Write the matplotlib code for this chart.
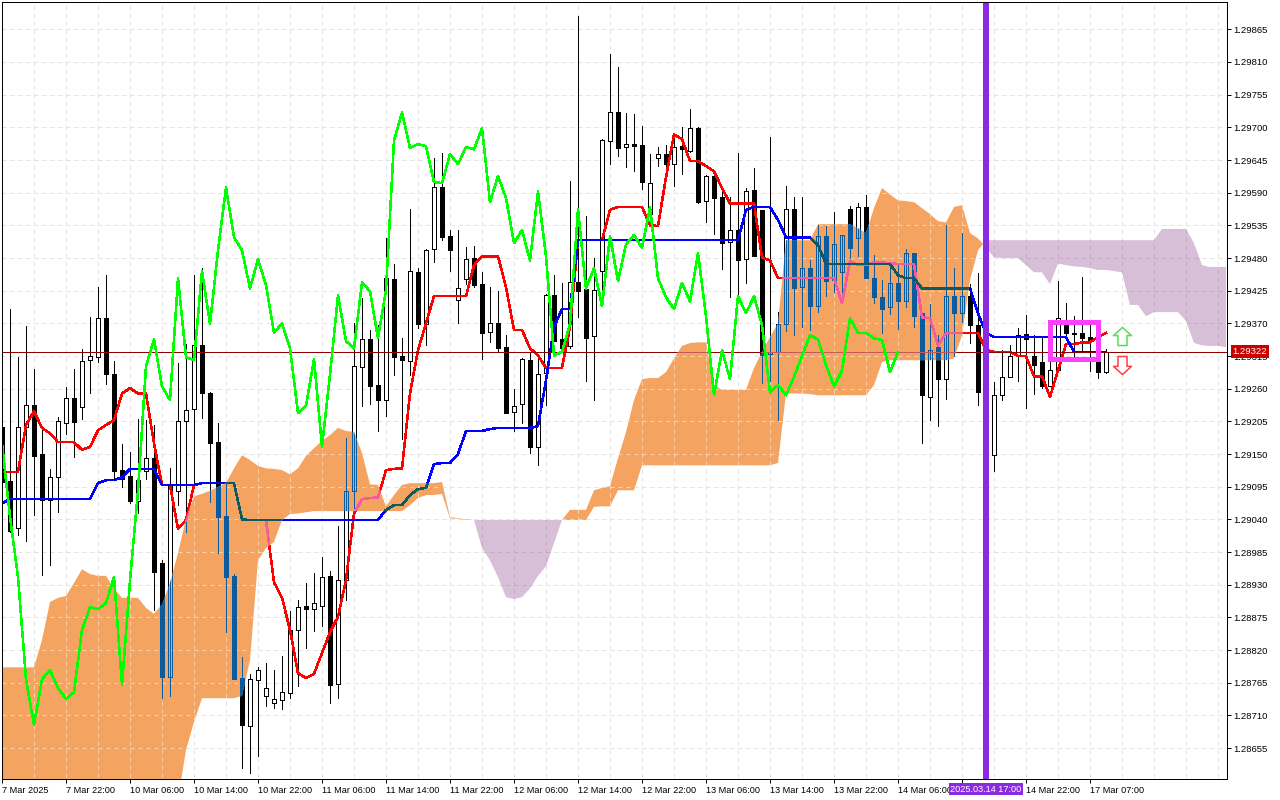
import matplotlib
matplotlib.use("Agg")
import matplotlib.pyplot as plt
import numpy as np
from matplotlib.path import Path

# prices are kept in points (1e-5)
opens = [
    129196, 129105, 129025, 129196, 129233, 129150, 129072, 129111, 129202, 129244,
    129229, 129308, 129313, 129379, 129284, 129123, 129113, 129071, 129121, 129143,
    128966, 128775, 129088, 129206, 129226, 129333, 129252, 129170, 129046, 128945,
    128773, 128692, 128770, 128743, 128731, 128736, 128748, 128854, 128894, 128889,
    128894, 128945, 128763, 128938, 129088, 129296, 129343, 129266, 129241, 129444,
    129315, 129306, 129456, 129369, 129495, 129599, 129517, 129409, 129444, 129480,
    129436, 129355, 129370, 129330, 129221, 129234, 129308, 129162, 129286, 129417,
    129343, 129332, 129439, 129428, 129348, 129458, 129677, 129725, 129667, 129672,
    129670, 129554, 129648, 129655, 129638, 129668, 129660, 129699, 129576, 129618,
    129582, 129507, 129527, 129478, 129594, 129561, 129318, 129322, 129369, 129562,
    129431, 129463, 129399, 129517, 129443, 129456, 129562, 129513, 129566, 129446,
    129414, 129397, 129438, 129407, 129488, 129387, 129246, 129330, 129276, 129416,
    129387, 129416, 129367, 129251, 129148, 129249, 129280, 129315, 129352, 129315,
    129305, 129264, 129291, 129367, 129352, 129354, 129347, 129305, 129288,
]
highs = [
    129294, 129394, 129313, 129365, 129293, 129196, 129125, 129212, 129263, 129293,
    129327, 129380, 129432, 129452, 129306, 129167, 129153, 129209, 129207, 129199,
    128971, 129126, 129303, 129335, 129452, 129463, 129254, 129202, 129101, 128948,
    128808, 128780, 128791, 128798, 128786, 128810, 128886, 128904, 128933, 128950,
    128977, 128953, 129029, 129177, 129370, 129412, 129359, 129367, 129513, 129470,
    129345, 129562, 129463, 129495, 129648, 129656, 129527, 129527, 129498, 129500,
    129456, 129431, 129424, 129350, 129259, 129311, 129322, 129316, 129419, 129451,
    129438, 129609, 129887, 129550, 129480, 129680, 129823, 129801, 129724, 129722,
    129702, 129655, 129667, 129670, 129690, 129700, 129731, 129700, 129620, 129620,
    129599, 129582, 129656, 129598, 129631, 129561, 129683, 129389, 129601, 129582,
    129582, 129476, 129535, 129534, 129557, 129519, 129567, 129572, 129586, 129485,
    129443, 129470, 129471, 129495, 129488, 129387, 129402, 129350, 129535, 129463,
    129522, 129436, 129455, 129274, 129271, 129325, 129333, 129362, 129384, 129350,
    129347, 129305, 129441, 129404, 129382, 129448, 129370, 129322, 129327,
]
lows = [
    129021, 129018, 129013, 129003, 129047, 128946, 128963, 129053, 129184, 129145,
    129209, 129252, 129305, 129268, 129106, 129095, 129067, 129050, 129108, 128887,
    128739, 128743, 129064, 129019, 129101, 129211, 129069, 128983, 128850, 128771,
    128621, 128613, 128642, 128726, 128722, 128721, 128739, 128760, 128823, 128852,
    128860, 128731, 128739, 128904, 129059, 129231, 129234, 129189, 129214, 129283,
    129175, 129283, 129362, 129333, 129473, 129510, 129458, 129370, 129436, 129431,
    129310, 129338, 129323, 129219, 129189, 129202, 129152, 129131, 129233, 129340,
    129328, 129328, 129380, 129273, 129241, 129414, 129638, 129651, 129633, 129626,
    129596, 129537, 129635, 129628, 129601, 129621, 129658, 129572, 129540, 129520,
    129461, 129414, 129412, 129438, 129483, 129269, 129273, 129207, 129357, 129350,
    129364, 129359, 129389, 129416, 129423, 129404, 129480, 129483, 129446, 129404,
    129354, 129385, 129360, 129397, 129364, 129168, 129207, 129197, 129242, 129315,
    129372, 129337, 129232, 129232, 129121, 129241, 129280, 129273, 129227, 129251,
    129261, 129264, 129291, 129342, 129313, 129322, 129290, 129278, 129286,
]
closes = [
    129103, 129021, 129196, 129233, 129147, 129072, 129111, 129206, 129244, 129204,
    129306, 129315, 129379, 129284, 129121, 129108, 129071, 129106, 129143, 128951,
    128775, 129098, 129206, 129224, 129333, 129252, 129168, 129044, 128943, 128771,
    128694, 128771, 128786, 128756, 128738, 128749, 128854, 128892, 128889, 128899,
    128943, 128761, 128938, 129088, 129298, 129343, 129264, 129241, 129446, 129313,
    129308, 129458, 129369, 129493, 129599, 129515, 129493, 129429, 129478, 129434,
    129354, 129370, 129328, 129219, 129231, 129310, 129162, 129284, 129417, 129340,
    129328, 129439, 129424, 129345, 129426, 129678, 129725, 129665, 129672, 129668,
    129608, 129606, 129655, 129638, 129667, 129663, 129699, 129574, 129618, 129581,
    129505, 129527, 129476, 129592, 129483, 129316, 129322, 129369, 129562, 129429,
    129463, 129399, 129517, 129441, 129503, 129519, 129497, 129566, 129446, 129414,
    129394, 129438, 129407, 129488, 129382, 129249, 129325, 129276, 129416, 129387,
    129416, 129367, 129254, 129266, 129249, 129280, 129315, 129350, 129343, 129300,
    129264, 129291, 129379, 129354, 129354, 129345, 129342, 129288, 129322,
]

# ichimoku lines
tenkan = [
    129120, 129120, 129120, 129199, 129222, 129194, 129185, 129170, 129170, 129170,
    129157, 129162, 129190, 129199, 129207, 129252, 129261, 129252, 129252, 129168,
    129098, 129098, 129024, 129039, 129098, 129101, 129101, 129101, 129101, 129101,
    129040, 129039, 129039, 129039, 128934, 128908, 128854, 128781, 128773, 128780,
    128815, 128850, 128876, 128938, 129050, 129074, 129076, 129077, 129123, 129125,
    129126, 129252, 129325, 129370, 129416, 129416, 129416, 129416, 129416, 129468,
    129483, 129483, 129483, 129431, 129359, 129359, 129328, 129316, 129295, 129295,
    129295, 129364, 129510, 129510, 129510, 129510, 129561, 129566, 129566, 129566,
    129566, 129535, 129534, 129616, 129688, 129680, 129643, 129643, 129635, 129626,
    129598, 129572, 129572, 129572, 129572, 129481, 129476, 129446, 129446, 129446,
    129446, 129446, 129446, 129446, 129446, 129404, 129475, 129468, 129468, 129473,
    129473, 129471, 129470, 129470, 129470, 129380, 129379, 129333, 129354, 129354,
    129354, 129354, 129354, 129325, 129322, 129322, 129322, 129315, 129315, 129281,
    129281, 129246, 129291, 129335, 129335, 129338, 129338, 129347, 129354,
]
kijun = [
    129067, 129074, 129074, 129074, 129074, 129074, 129074, 129074, 129074, 129074,
    129074, 129074, 129101, 129106, 129106, 129111, 129125, 129125, 129125, 129125,
    129098, 129098, 129098, 129098, 129098, 129101, 129101, 129101, 129101, 129101,
    129040, 129039, 129039, 129039, 129039, 129039, 129039, 129039, 129039, 129039,
    129039, 129039, 129039, 129039, 129039, 129039, 129039, 129039, 129056, 129064,
    129064, 129081, 129091, 129093, 129133, 129135, 129135, 129150, 129189, 129189,
    129189, 129192, 129194, 129194, 129194, 129194, 129194, 129197, 129274, 129364,
    129394, 129394, 129510, 129510, 129510, 129510, 129510, 129510, 129510, 129510,
    129510, 129510, 129510, 129510, 129510, 129510, 129510, 129510, 129510, 129510,
    129510, 129510, 129510, 129561, 129566, 129566, 129566, 129544, 129515, 129515,
    129515, 129515, 129502, 129470, 129470, 129470, 129470, 129470, 129470, 129470,
    129470, 129470, 129451, 129446, 129446, 129429, 129429, 129429, 129429, 129429,
    129429, 129429, 129387, 129354, 129347, 129347, 129347, 129347, 129347, 129347,
    129347, 129347, 129347, 129347, 129322, 129322, 129322, 129322, 129322,
]
chikou = [
    129168, 129044, 128943, 128771,
    128694, 128771, 128786, 128756, 128738, 128749, 128854, 128892, 128889, 128899,
    128943, 128761, 128938, 129088, 129298, 129343, 129264, 129241, 129446, 129313,
    129308, 129458, 129369, 129493, 129599, 129515, 129493, 129429, 129478, 129434,
    129354, 129370, 129328, 129219, 129231, 129310, 129162, 129284, 129417, 129340,
    129328, 129439, 129424, 129345, 129426, 129678, 129725, 129665, 129672, 129668,
    129608, 129606, 129655, 129638, 129667, 129663, 129699, 129574, 129618, 129581,
    129505, 129527, 129476, 129592, 129483, 129316, 129322, 129369, 129562, 129429,
    129463, 129399, 129517, 129441, 129503, 129519, 129497, 129566, 129446, 129414,
    129394, 129438, 129407, 129488, 129382, 129249, 129325, 129276, 129416, 129387,
    129416, 129367, 129254, 129266, 129249, 129280, 129315, 129350, 129343, 129300,
    129264, 129291, 129379, 129354, 129354, 129345, 129342, 129288, 129322,
]
span_a = [
    128791, 128791, 128791, 128791, 128791, 128837, 128901, 128908, 128911, 128933,
    128956, 128948, 128945, 128945, 128924, 128908, 128908, 128908, 128891, 128881,
    128897, 128933, 128983, 129042, 129079, 129083, 129088, 129095, 129101, 129126,
    129148, 129140, 129130, 129126, 129125, 129123, 129116, 129126, 129147, 129160,
    129172, 129182, 129194, 129189, 129187, 129152, 129099, 129098, 129062, 129081,
    129098, 129101, 129101, 129101, 129101, 129103, 129044, 129042, 129040, 129039,
    128992, 128971, 128943, 128909, 128906, 128909, 128924, 128945, 128961, 129000,
    129039, 129056, 129056, 129056, 129089, 129093, 129096, 129143, 129187, 129241,
    129276, 129278, 129278, 129288, 129311, 129332, 129337, 129338, 129338, 129266,
    129258, 129258, 129258, 129258, 129295, 129322, 129347, 129370, 129510, 129510,
    129510, 129510, 129537, 129537, 129537, 129537, 129537, 129530, 129522, 129564,
    129598, 129587, 129577, 129576, 129574, 129564, 129554, 129542, 129540, 129566,
    129569, 129522, 129513, 129498, 129481, 129480, 129480, 129480, 129468, 129456,
    129456, 129436, 129471, 129468, 129466, 129465, 129463, 129460, 129460, 129458,
    129456, 129401, 129401, 129382, 129389, 129389, 129389, 129389, 129374, 129337,
    129333, 129332, 129332, 129330,
]
span_b = [
    128568, 128568, 128568, 128568, 128568, 128568, 128568, 128568, 128568, 128568,
    128568, 128568, 128568, 128568, 128568, 128568, 128568, 128568, 128568, 128568,
    128568, 128568, 128568, 128652, 128699, 128739, 128739, 128739, 128739, 128739,
    128743, 128803, 128971, 128992, 129002, 129039, 129049, 129050, 129052, 129054,
    129054, 129054, 129054, 129054, 129054, 129054, 129054, 129054, 129054, 129054,
    129054, 129064, 129076, 129081, 129081, 129083, 129042, 129041, 129039, 129039,
    129039, 129039, 129039, 129039, 129039, 129039, 129039, 129039, 129039, 129039,
    129039, 129039, 129039, 129039, 129061, 129062, 129062, 129089, 129089, 129089,
    129131, 129131, 129131, 129131, 129131, 129131, 129131, 129131, 129131, 129131,
    129131, 129131, 129131, 129131, 129131, 129131, 129131, 129135, 129252, 129252,
    129252, 129251, 129249, 129249, 129249, 129249, 129249, 129249, 129249, 129266,
    129305, 129308, 129308, 129308, 129308, 129308, 129308, 129308, 129308, 129311,
    129350, 129443, 129493, 129510, 129510, 129510, 129510, 129510, 129510, 129510,
    129510, 129510, 129510, 129510, 129510, 129510, 129510, 129510, 129510, 129510,
    129510, 129510, 129510, 129510, 129510, 129529, 129529, 129529, 129529, 129505,
    129468, 129465, 129465, 129465,
]

y_ticks = [1.28655, 1.28710, 1.28765, 1.28820, 1.28875, 1.28930, 1.28985, 1.29040,
           1.29095, 1.29150, 1.29205, 1.29260, 1.29315, 1.29370, 1.29425, 1.29480,
           1.29535, 1.29590, 1.29645, 1.29700, 1.29755, 1.29810, 1.29865]
x_tick_bars = [0, 8, 16, 24, 32, 40, 48, 56, 64, 72, 80, 88, 96, 104, 112, 120, 128, 136]
x_tick_labels = ["7 Mar 2025", "7 Mar 22:00", "10 Mar 06:00", "10 Mar 14:00", "10 Mar 22:00",
                 "11 Mar 06:00", "11 Mar 14:00", "11 Mar 22:00", "12 Mar 06:00", "12 Mar 14:00",
                 "12 Mar 22:00", "13 Mar 06:00", "13 Mar 14:00", "13 Mar 22:00", "14 Mar 06:00",
                 "", "14 Mar 22:00", "17 Mar 07:00"]
last_price = 1.29322
marked_bar = 123
box_bars = (131, 137)
box_prices = (1.29310, 1.29372)
up_arrow_price = 1.29348
down_arrow_price = 1.29300
arrow_bar = 140

ORANGE = "#f4a460"
THISTLE = "#d8bfd8"
PX = 0.72  # one pixel in points at dpi 100
LINE_W = 1.1

plt.rcParams["font.family"] = ["Liberation Sans", "DejaVu Sans"]
plt.rcParams["font.size"] = 6.6

fig = plt.figure(figsize=(12.8, 8), dpi=100)
ax = fig.add_axes([2 / 1280, 1 - 779 / 800, 1225 / 1280, 777 / 800])

o = np.array(opens) / 1e5
h = np.array(highs) / 1e5
l = np.array(lows) / 1e5
c = np.array(closes) / 1e5
bars = np.arange(len(o))
cloud_x = np.arange(len(span_a))
a = np.array(span_a) / 1e5
b = np.array(span_b) / 1e5


def draw_grid(color, z, clip=None):
    hl = ax.hlines(y_ticks, 0, 154, colors=color, linewidth=PX, linestyles=(0, (4, 4)), zorder=z)
    vl = ax.vlines(np.arange(0, 154, 4), 1.28, 1.30, colors=color, linewidth=PX,
                   linestyles=(0, (4, 4)), zorder=z)
    if clip is not None:
        hl.set_clip_path(clip, ax.transData)
        vl.set_clip_path(clip, ax.transData)


def draw_candles(edge, up_face, down_face, z, clip=None):
    up = c >= o
    wick = ax.vlines(bars, l, h, colors=edge, linewidth=PX, zorder=z, antialiased=False)
    parts = [wick]
    parts += list(ax.bar(bars[up], (c - o)[up], 0.5, o[up], facecolor=up_face, edgecolor=edge,
                         linewidth=PX, zorder=z + 0.1, antialiased=False))
    parts += list(ax.bar(bars[~up], (c - o)[~up], 0.5, o[~up], facecolor=down_face, edgecolor=edge,
                         linewidth=PX, zorder=z + 0.1, antialiased=False))
    if clip is not None:
        for p in parts:
            p.set_clip_path(clip, ax.transData)


def draw_lines(red, blue, z, clip=None):
    l1, = ax.plot(bars, np.array(tenkan) / 1e5, color=red, lw=LINE_W, zorder=z, antialiased=False)
    l2, = ax.plot(bars, np.array(kijun) / 1e5, color=blue, lw=LINE_W, zorder=z + 0.1, antialiased=False)
    if clip is not None:
        l1.set_clip_path(clip, ax.transData)
        l2.set_clip_path(clip, ax.transData)


# normal colours first, then the cloud on top of them
draw_grid("#e2e2e2", 1)
draw_candles("black", "white", "black", 2)
draw_lines("#ff0000", "#0000ff", 3)
ax.axhline(last_price, color="#900000", lw=PX, zorder=3.5, antialiased=False)

orange = ax.fill_between(cloud_x, a, b, where=a >= b, interpolate=True, color=ORANGE,
                         linewidth=0, zorder=4)
thistle = ax.fill_between(cloud_x, a, b, where=a <= b, interpolate=True, color=THISTLE,
                          linewidth=0, zorder=4)

# inside the cloud the terminal shows inverted colours
cloud_path = Path.make_compound_path(*orange.get_paths())
thistle_path = Path.make_compound_path(*thistle.get_paths())
draw_grid("#f8d3ab", 5, cloud_path)
draw_grid("#c4a8c4", 5, thistle_path)
draw_candles("#0b5b9f", "none", "#0b5b9f", 5.1, cloud_path)
draw_lines("#f45b9f", "#0b5b60", 5.5, cloud_path)
price_in_cloud, = ax.plot([0, 154], [last_price, last_price], color="#c45a5a", lw=PX, zorder=5.8,
                          antialiased=False)
price_in_cloud.set_clip_path(cloud_path, ax.transData)

ax.plot(bars[:len(chikou)], np.array(chikou) / 1e5, color="#00ff00", lw=LINE_W, zorder=6,
        antialiased=False)

ax.axvline(marked_bar, color="#8a2be2", lw=6 * PX, zorder=7, antialiased=False)

# magenta box around the last bars
bx = [box_bars[0], box_bars[1], box_bars[1], box_bars[0], box_bars[0]]
by = [box_prices[0], box_prices[0], box_prices[1], box_prices[1], box_prices[0]]
ax.plot(bx, by, color="#ff40ff", lw=4.5 * PX, zorder=8, solid_joinstyle="miter", antialiased=False)

# hollow arrows
up_marker = Path([(0, 1), (-1, 0.1), (-0.5, 0.1), (-0.5, -1), (0.5, -1), (0.5, 0.1), (1, 0.1), (0, 1), (0, 1)],
                 [Path.MOVETO] + [Path.LINETO] * 7 + [Path.CLOSEPOLY])
down_marker = Path([(0, -1), (-1, -0.1), (-0.5, -0.1), (-0.5, 1), (0.5, 1), (0.5, -0.1), (1, -0.1), (0, -1), (0, -1)],
                   [Path.MOVETO] + [Path.LINETO] * 7 + [Path.CLOSEPOLY])
ax.plot([arrow_bar], [up_arrow_price], marker=up_marker, ms=13, mfc="white", mec="#55dd55", mew=1.1,
        ls="none", zorder=8)
ax.plot([arrow_bar], [down_arrow_price], marker=down_marker, ms=13, mfc="white", mec="#ff4040", mew=1.1,
        ls="none", zorder=8)

ax.set_xlim(0, 153.125)
ax.set_ylim(1.28603, 1.29911)
for s in ax.spines.values():
    s.set_linewidth(PX)
    s.set_zorder(9)

ax.yaxis.tick_right()
ax.set_yticks(y_ticks)
ax.set_yticklabels(["%.5f" % v for v in y_ticks])
ax.tick_params(axis="y", length=3, width=PX, pad=1.2, labelsize=6.8)
ax.set_xticks(x_tick_bars)
ax.set_xticklabels(x_tick_labels, ha="left")
ax.tick_params(axis="x", length=3, width=PX, pad=2, labelsize=6.6)

# current price tag and date tag
ax.text((1250 - 2) / 1225, last_price, "1.29322", transform=ax.get_yaxis_transform(), color="white",
        fontsize=6.8, ha="center", va="center", zorder=20, clip_on=False,
        bbox=dict(boxstyle="square,pad=0.2", fc="#c80000", ec="none"))
ax.annotate("2025.03.14 17:00", xy=(marked_bar, 0), xycoords=("data", "axes fraction"),
            xytext=(0, -7.4), textcoords="offset points", color="white", fontsize=6.6,
            ha="center", va="center", zorder=20, annotation_clip=False,
            bbox=dict(boxstyle="square,pad=0.15", fc="#8a2be2", ec="none"))

fig.savefig("out.png", dpi=100)
